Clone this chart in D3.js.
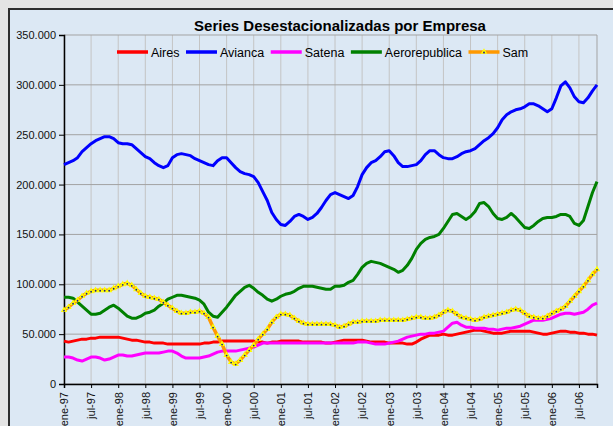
<!DOCTYPE html>
<html>
<head>
<meta charset="utf-8">
<script src="https://cdn.jsdelivr.net/npm/d3@7"></script>
<style>
  body { margin: 0; background: #e4e4e4; overflow: hidden; }
  text { font-family: Arial, "Liberation Sans", sans-serif; }
</style>
</head>
<body>
<div id='chart'></div>

<script>
  // monthly values, thousands of passengers, ene-97 .. nov-06
  var aires = [43,42,43,44,45,45,46,46,47,47,47,47,47,46,45,44,44,43,42,42,
               41,41,41,40,40,40,40,40,40,40,40,41,41,42,42,43,43,43,43,43,
               43,43,43,42,42,41,42,42,43,43,43,43,43,42,42,42,42,42,41,41,
               42,43,44,44,44,44,44,43,42,42,42,42,41,41,41,41,40,40,42,45,
               47,49,49,49,50,49,49,50,51,52,53,54,54,53,52,51,51,51,52,53,
               53,53,53,53,52,51,50,50,51,52,53,53,52,52,51,51,50,50,49]
  var avianca = [220,222,224,227,233,237,241,244,246,248,248,246,242,241,241,240,236,232,228,226,
                 222,219,217,219,227,230,231,230,229,226,224,222,220,219,224,227,227,222,217,213,
                 211,210,208,202,193,184,172,165,160,159,163,168,170,168,165,167,171,177,184,190,
                 192,190,188,186,189,198,210,217,222,224,228,233,234,229,222,218,218,219,220,224,
                 230,234,234,230,227,226,226,228,231,233,234,236,240,244,247,251,257,265,270,273,
                 275,276,278,281,281,279,276,273,276,287,299,303,297,288,283,282,287,294,300]
  var satena = [27,27,26,24,23,25,27,27,26,24,25,27,29,29,28,28,29,30,31,31,
                31,31,32,33,33,31,28,26,26,26,26,27,28,30,32,33,33,33,33,34,
                35,36,37,39,41,41,41,41,41,41,41,41,41,41,41,41,41,41,41,41,
                41,41,41,41,41,42,42,42,41,40,40,40,41,42,43,45,47,48,49,50,
                50,51,51,52,53,57,61,62,59,57,57,56,56,56,55,55,54,55,56,56,
                57,58,60,62,64,64,64,65,66,68,70,71,71,70,71,72,75,79,81]
  var aerorepublica = [87,87,86,82,78,74,70,70,71,74,77,79,76,72,68,66,66,68,71,72,
                       74,78,81,85,87,89,89,88,87,86,84,80,72,68,67,72,77,83,89,93,
                       97,99,96,92,89,85,83,85,88,90,91,93,96,98,98,98,97,96,95,95,
                       98,98,99,102,104,110,117,121,123,122,121,119,117,115,112,114,119,126,135,141,
                       145,147,148,150,156,163,170,171,168,165,168,173,181,182,178,171,166,165,167,171,
                       167,162,157,156,159,163,166,167,167,168,170,170,168,161,159,164,178,192,203]
  var sam = [74,77,81,84,88,91,93,94,94,94,94,96,98,100,101,99,95,91,88,87,
             86,85,82,79,76,73,71,71,72,72,73,71,67,57,48,40,29,22,20,24,
             29,34,39,45,50,55,62,67,70,70,69,66,63,61,60,60,60,60,60,60,
             59,57,58,60,62,62,63,63,63,63,64,64,64,64,64,64,65,66,67,67,
             66,66,67,69,72,74,73,70,67,66,65,64,65,67,68,69,70,71,72,74,
             75,74,71,68,67,66,66,68,71,73,75,78,83,88,93,98,104,110,115]

  var seriesNames = ['Aires', 'Avianca', 'Satena', 'Aerorepublica', 'Sam']
  var seriesColors = ['#ff0000', '#0000ff', '#ff00ff', '#008000', '#ff9900']
  var yTicks = [0, 50, 100, 150, 200, 250, 300, 350]
  var tickLabels = ['ene-97','jul-97','ene-98','jul-98','ene-99','jul-99','ene-00','jul-00',
                    'ene-01','jul-01','ene-02','jul-02','ene-03','jul-03','ene-04','jul-04',
                    'ene-05','jul-05','ene-06','jul-06']

  var allSeries = [aires, avianca, satena, aerorepublica, sam]

  var plot = {left: 64, right: 597, top: 35, bottom: 384}

  var svg = d3.select('#chart')
              .append('svg')
              .attr('width', 613)
              .attr('height', 426)

  // chart area
  svg.append('rect')
     .attr('x', 9)
     .attr('y', 9)
     .attr('width', 640)
     .attr('height', 440)
     .attr('fill', '#dce8f4')
     .attr('stroke', '#2e2e2e')
     .attr('stroke-width', 2)

  var x = d3.scaleLinear()
            .domain([0, aires.length - 1])
            .range([plot.left, plot.right])

  var y = d3.scaleLinear()
            .domain([0, 350])
            .range([plot.bottom, plot.top])

  var es = d3.formatLocale({decimal: ',', thousands: '.', grouping: [3], currency: ['$', '']})
  var fmt = es.format(',')

  // grid
  var tickIdx = tickLabels.map(function(d, i) { return i * 6 })

  svg.append('g')
     .selectAll('line')
     .data(tickIdx)
     .enter()
     .append('line')
     .attr('x1', function(d) { return x(d) })
     .attr('x2', function(d) { return x(d) })
     .attr('y1', plot.top)
     .attr('y2', plot.bottom)
     .attr('stroke', '#c4c4c4')
     .attr('stroke-width', 1)

  svg.append('g')
     .selectAll('line')
     .data(yTicks)
     .enter()
     .append('line')
     .attr('x1', plot.left)
     .attr('x2', plot.right)
     .attr('y1', function(d) { return y(d) })
     .attr('y2', function(d) { return y(d) })
     .attr('stroke', '#a3a3a3')
     .attr('stroke-width', 1)

  svg.append('line')
     .attr('x1', plot.right)
     .attr('x2', plot.right)
     .attr('y1', plot.top)
     .attr('y2', plot.bottom)
     .attr('stroke', '#a3a3a3')

  // axes
  var yAxis = svg.append('g')
                 .attr('transform', 'translate(' + plot.left + ',0)')
                 .call(d3.axisLeft(y)
                         .tickValues(yTicks)
                         .tickSize(5)
                         .tickPadding(3)
                         .tickFormat(function(d) { return fmt(d * 1000) }))
  yAxis.selectAll('text').attr('font-size', 11).attr('fill', '#111')
  yAxis.select('.domain').attr('stroke', '#000').attr('stroke-width', 1.5)

  var xAxis = svg.append('g')
                 .attr('transform', 'translate(0,' + plot.bottom + ')')
                 .call(d3.axisBottom(x)
                         .tickValues(tickIdx)
                         .tickSize(4)
                         .tickFormat(function(d, i) { return tickLabels[i] }))
  xAxis.selectAll('text')
       .attr('font-size', 11)
       .attr('fill', '#111')
       .attr('x', -8)
       .attr('y', 0)
       .attr('dy', '0.35em')
       .attr('transform', 'rotate(-90)')
       .style('text-anchor', 'end')
  xAxis.select('.domain').attr('stroke', '#000').attr('stroke-width', 1.5)

  // lines
  var line = d3.line()
               .x(function(d, i) { return x(i) })
               .y(function(d) { return y(d) })

  allSeries.forEach(function(s, k) {
    svg.append('path')
       .datum(s)
       .attr('d', line)
       .attr('fill', 'none')
       .attr('stroke', seriesColors[k])
       .attr('stroke-width', k == 4 ? 3.5 : 3)
       .attr('stroke-linejoin', 'round')
  })

  var tri = d3.symbol().type(d3.symbolTriangle).size(18)

  function samMarker(g, cx, cy) {
    g.append('path')
     .attr('d', tri)
     .attr('transform', 'translate(' + cx + ',' + cy + ')')
     .attr('fill', '#ffff00')
    g.append('circle')
     .attr('cx', cx)
     .attr('cy', cy + 0.5)
     .attr('r', 0.9)
     .attr('fill', '#1a1a8c')
  }

  var markers = svg.append('g')
  sam.forEach(function(d, i) {
    samMarker(markers, x(i), y(d))
  })

  // title
  svg.append('text')
     .attr('x', 340)
     .attr('y', 30.5)
     .attr('text-anchor', 'middle')
     .attr('font-size', 15)
     .attr('font-weight', 'bold')
     .text('Series Desestacionalizadas por Empresa')

  // legend
  var legend = svg.append('g')
  var lx = 117, ly = 52
  seriesNames.forEach(function(name, k) {
    legend.append('line')
          .attr('x1', lx)
          .attr('x2', lx + 31)
          .attr('y1', ly)
          .attr('y2', ly)
          .attr('stroke', seriesColors[k])
          .attr('stroke-width', 3.5)
    if (k == 4) samMarker(legend, lx + 15.5, ly)
    var t = legend.append('text')
                  .attr('x', lx + 34)
                  .attr('y', ly + 4.5)
                  .attr('font-size', 12.5)
                  .text(name)
    lx = lx + 34 + t.node().getComputedTextLength() + 6.5
  })
</script>
</body>
</html>
